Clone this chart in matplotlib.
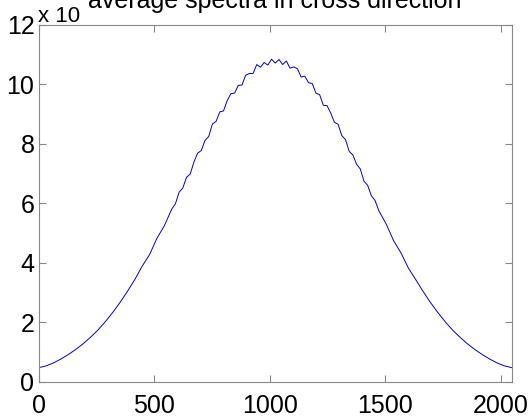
import matplotlib
matplotlib.use("Agg")
import matplotlib.pyplot as plt

# column index across the image and averaged spectrum (units of 10^4)
# tails read every 32 columns, the noisy middle every 16
cols = list(range(0, 576, 32)) + list(range(576, 1473, 16)) + list(range(1504, 2049, 32))
left_tail = [0.47, 0.53, 0.63, 0.76, 0.91, 1.08, 1.27, 1.49, 1.73, 2.01,
             2.32, 2.66, 3.03, 3.43, 3.88, 4.27, 4.82, 5.24]
middle = [5.80, 5.98, 6.37, 6.51, 6.87, 6.98, 7.38, 7.68, 7.77, 8.11,
          8.24, 8.66, 8.75, 9.07, 9.10, 9.45, 9.68, 9.70, 9.96, 9.97,
          10.30, 10.36, 10.36, 10.66, 10.57, 10.73, 10.64, 10.84, 10.71,
          10.83, 10.66, 10.78, 10.54, 10.58, 10.52, 10.24, 10.27, 10.05, 10.02,
          9.70, 9.65, 9.29, 9.28, 9.03, 8.72, 8.65, 8.27, 8.14, 7.74,
          7.62, 7.31, 7.15, 6.74, 6.60, 6.25, 6.09, 5.75]
right_tail = [5.30, 4.74, 4.33, 3.82, 3.43, 3.03, 2.66, 2.32, 2.01, 1.73,
              1.49, 1.27, 1.08, 0.91, 0.76, 0.63, 0.53, 0.47]
spectrum = left_tail + middle + right_tail
xticks = [0, 500, 1000, 1500, 2000]
yticks = [0, 2, 4, 6, 8, 10, 12]

plt.rcParams['font.family'] = ['Liberation Sans', 'DejaVu Sans']

fig = plt.figure(figsize=(5.31, 4.17), dpi=100)
ax = fig.add_axes([0.0727, 0.0847, 0.8913, 0.8561])

ax.plot(cols, spectrum, color='#0000cc', linewidth=0.7)

ax.set_xlim(0, 2048)
ax.set_ylim(0, 12)
ax.set_xticks(xticks)
ax.set_yticks(yticks)
ax.tick_params(direction='in', length=5, width=0.8, color='#888888',
               labelsize=18, top=True, right=True)
ax.tick_params(axis='x', pad=9)
ax.tick_params(axis='y', pad=3)
for s in ax.spines.values():
    s.set_color('#888888')
    s.set_linewidth(0.8)

# title sits partly outside the canvas, like the original
fig.text(275 / 531, 1 - 8 / 417, 'average spectra in cross direction',
         fontsize=18, ha='center', va='baseline')
fig.text(38 / 531, 1 - 22 / 417, 'x 10', fontsize=16,
         ha='left', va='baseline')

fig.savefig('out.png', dpi=100)
